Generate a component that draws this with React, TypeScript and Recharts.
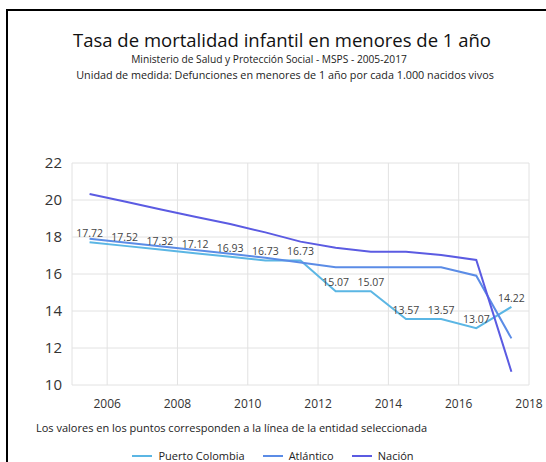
import React from "react"
import { LineChart, Line, XAxis, YAxis, CartesianGrid, LabelList } from "recharts"

// Años (los puntos se dibujan a mitad de año)
const years = [2005, 2006, 2007, 2008, 2009, 2010, 2011, 2012, 2013, 2014, 2015, 2016, 2017]
const puertoColombia = [17.72, 17.52, 17.32, 17.12, 16.93, 16.73, 16.73, 15.07, 15.07, 13.57, 13.57, 13.07, 14.22]
const atlantico = [17.9, 17.7, 17.5, 17.3, 17.1, 16.88, 16.62, 16.36, 16.36, 16.36, 16.36, 15.91, 12.52]
const nacion = [20.32, 19.92, 19.5, 19.1, 18.7, 18.25, 17.75, 17.42, 17.2, 17.2, 17.03, 16.76, 10.72]
const xTicks = [2006, 2008, 2010, 2012, 2014, 2016, 2018]
const yTicks = [10, 12, 14, 16, 18, 20, 22]

const series = [
  { key: "pc", name: "Puerto Colombia", color: "#5bb6e4", values: puertoColombia },
  { key: "atl", name: "Atlántico", color: "#5b8ce6", values: atlantico },
  { key: "nac", name: "Nación", color: "#5b5be2", values: nacion },
]

const data = years.map((y, i) => ({
  x: y + 0.5,
  pc: puertoColombia[i],
  atl: atlantico[i],
  nac: nacion[i],
}))

const font = "'Segoe UI', 'Open Sans', sans-serif"

export default function App() {
  return (
    <div style={{ position: "absolute", left: 0, top: 0, width: 546, height: 462, background: "#fff", fontFamily: font, overflow: "hidden" }}>
      {/* marco */}
      <div style={{ position: "absolute", left: 6, top: 9, width: 540, height: 2, background: "#000" }} />
      <div style={{ position: "absolute", left: 6, top: 9, width: 2, height: 453, background: "#000" }} />

      <div style={{ position: "absolute", left: 0, width: 564, top: 27, textAlign: "center", fontSize: 18.5, color: "#111", lineHeight: "26px" }}>
        Tasa de mortalidad infantil en menores de 1 año
      </div>
      <div style={{ position: "absolute", left: 0, width: 538, top: 51, textAlign: "center", fontSize: 10.2, color: "#222", lineHeight: "16px" }}>
        Ministerio de Salud y Protección Social - MSPS - 2005-2017
      </div>
      <div style={{ position: "absolute", left: 0, width: 570, top: 67, textAlign: "center", fontSize: 10.8, color: "#222", lineHeight: "16px" }}>
        Unidad de medida: Defunciones en menores de 1 año por cada 1.000 nacidos vivos
      </div>

      <div style={{ position: "absolute", left: 0, top: 0 }}>
        <LineChart width={546} height={462} data={data} margin={{ top: 163, right: 17, bottom: 47, left: 0 }}>
          <CartesianGrid stroke="#e2e2e2" strokeWidth={1} />
          <XAxis
            dataKey="x"
            type="number"
            domain={[2005, 2018]}
            ticks={xTicks}
            axisLine={false}
            tickLine={false}
            tickMargin={8}
            tick={{ fontSize: 12, fill: "#333", fontFamily: font }}
            height={30}
          />
          <YAxis
            domain={[10, 22]}
            ticks={yTicks}
            axisLine={false}
            tickLine={false}
            tickMargin={4}
            width={72}
            tick={{ fontSize: 15, fill: "#333", fontFamily: font }}
          />
          {series.map((s) => (
            <Line
              key={s.key}
              type="linear"
              dataKey={s.key}
              name={s.name}
              stroke={s.color}
              strokeWidth={2}
              dot={false}
              isAnimationActive={false}
            >
              {s.key === "pc" && (
                <LabelList
                  dataKey="pc"
                  position="top"
                  offset={5}
                  style={{ fontSize: 10.5, fill: "#444", fontFamily: font }}
                  formatter={(v: number) => v.toFixed(2)}
                />
              )}
            </Line>
          ))}
        </LineChart>
      </div>

      <div style={{ position: "absolute", left: 36, top: 420, fontSize: 11, color: "#222", lineHeight: "16px" }}>
        Los valores en los puntos corresponden a la línea de la entidad seleccionada
      </div>

      <div style={{ position: "absolute", left: 0, width: 546, top: 448, display: "flex", justifyContent: "center", gap: 18, fontSize: 11, color: "#222", lineHeight: "16px" }}>
        {series.map((s) => (
          <div key={s.key} style={{ display: "flex", alignItems: "center", gap: 6 }}>
            <span style={{ display: "inline-block", width: 20, height: 2, background: s.color }} />
            <span>{s.name}</span>
          </div>
        ))}
      </div>
    </div>
  )
}
